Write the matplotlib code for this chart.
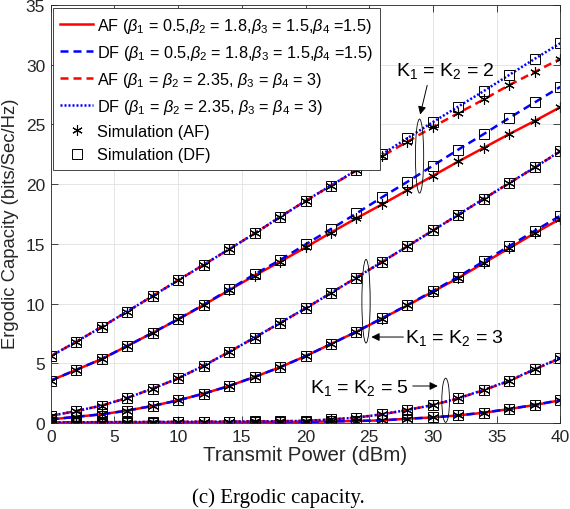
import numpy as np
import matplotlib
matplotlib.use('Agg')
import matplotlib.pyplot as plt
from matplotlib.patches import Ellipse

# ── data ──────────────────────────────────────────────────────────────────────
power_dbm = [0, 2, 4, 6, 8, 10, 12, 14, 16, 18, 20,
             22, 24, 26, 28, 30, 32, 34, 36, 38, 40]

# K1 = K2 = 2
k2_af_b1 = [3.55, 4.45, 5.36, 6.45, 7.55, 8.68, 9.88, 11.12, 12.35, 13.5, 14.7,
            15.95, 17.15, 18.3, 19.5, 20.7, 21.9, 23.05, 24.2, 25.3, 26.45]
k2_df_b1 = [3.55, 4.45, 5.36, 6.45, 7.56, 8.7, 9.9, 11.18, 12.45, 13.65, 14.95,
            16.25, 17.55, 18.9, 20.2, 21.55, 22.9, 24.2, 25.55, 26.85, 28.15]
k2_af_b2 = [5.6, 6.8, 8.05, 9.33, 10.64, 11.95, 13.25, 14.55, 15.87, 17.25, 18.6,
            19.88, 21.15, 22.35, 23.55, 24.8, 25.95, 27.1, 28.3, 29.4, 30.5]
k2_df_b2 = [5.6, 6.8, 8.05, 9.33, 10.64, 11.95, 13.25, 14.55, 15.87, 17.25, 18.6,
            19.88, 21.18, 22.5, 23.85, 25.2, 26.5, 27.8, 29.15, 30.5, 31.8]

# K1 = K2 = 3
k3_af_b1 = [0.3, 0.52, 0.73, 1.04, 1.43, 1.9, 2.46, 3.1, 3.86, 4.67, 5.6,
            6.62, 7.65, 8.75, 9.85, 11.0, 12.15, 13.4, 14.65, 15.9, 17.1]
k3_df_b1 = [0.3, 0.52, 0.73, 1.04, 1.43, 1.9, 2.46, 3.1, 3.86, 4.67, 5.6,
            6.62, 7.65, 8.77, 9.88, 11.05, 12.25, 13.55, 14.82, 16.1, 17.35]
k3_af_b2 = [0.6, 1.0, 1.46, 2.1, 2.88, 3.74, 4.8, 5.95, 7.15, 8.38, 9.6,
            10.89, 12.18, 13.49, 14.8, 16.12, 17.45, 18.78, 20.1, 21.4, 22.75]
k3_df_b2 = [0.6, 1.0, 1.46, 2.1, 2.88, 3.74, 4.8, 5.95, 7.15, 8.38, 9.6,
            10.89, 12.18, 13.49, 14.8, 16.12, 17.45, 18.78, 20.1, 21.4, 22.78]

# K1 = K2 = 5
k5_af_b1 = [0.02, 0.03, 0.03, 0.04, 0.04, 0.05, 0.06, 0.07, 0.08, 0.09, 0.1,
            0.13, 0.17, 0.22, 0.36, 0.47, 0.64, 0.86, 1.17, 1.51, 1.9]
k5_df_b1 = [0.02, 0.03, 0.03, 0.04, 0.04, 0.05, 0.06, 0.07, 0.08, 0.09, 0.1,
            0.13, 0.17, 0.22, 0.36, 0.47, 0.64, 0.87, 1.18, 1.52, 1.92]
k5_af_b2 = [0.05, 0.06, 0.07, 0.08, 0.09, 0.1, 0.11, 0.12, 0.13, 0.15, 0.18,
            0.3, 0.45, 0.73, 1.09, 1.51, 2.07, 2.76, 3.52, 4.5, 5.42]
k5_df_b2 = [0.05, 0.06, 0.07, 0.08, 0.09, 0.1, 0.11, 0.12, 0.13, 0.15, 0.18,
            0.3, 0.45, 0.73, 1.09, 1.51, 2.07, 2.78, 3.55, 4.52, 5.45]

af_b1_sets = [k2_af_b1, k3_af_b1, k5_af_b1]
df_b1_sets = [k2_df_b1, k3_df_b1, k5_df_b1]
af_b2_sets = [k2_af_b2, k3_af_b2, k5_af_b2]
df_b2_sets = [k2_df_b2, k3_df_b2, k5_df_b2]

labels = [r'AF ($\beta_1$ = 0.5,$\beta_2$ = 1.8,$\beta_3$ = 1.5,$\beta_4$ =1.5)',
          r'DF ($\beta_1$ = 0.5,$\beta_2$ = 1.8,$\beta_3$ = 1.5,$\beta_4$ =1.5)',
          r'AF ($\beta_1$ = $\beta_2$ = 2.35, $\beta_3$ = $\beta_4$ = 3)',
          r'DF ($\beta_1$ = $\beta_2$ = 2.35, $\beta_3$ = $\beta_4$ = 3)',
          'Simulation (AF)', 'Simulation (DF)']

# ── style ─────────────────────────────────────────────────────────────────────
plt.rcParams['font.family'] = ['Liberation Sans', 'DejaVu Sans']
plt.rcParams['mathtext.fontset'] = 'custom'
plt.rcParams['mathtext.rm'] = 'Liberation Sans'
plt.rcParams['mathtext.it'] = 'Liberation Sans:italic'
DARK = (0.15, 0.15, 0.15)
STAR = (6, 2, 0)

fig = plt.figure(figsize=(5.7, 5.1), dpi=100)
ax = fig.add_axes([0.089, 0.1686, 0.894, 0.8196])

x = np.array(power_dbm)
lw = 1.8
h = [None] * 6
for i in range(3):
    h[0], = ax.plot(x, af_b1_sets[i], color='red', lw=lw, ls='-')
    h[1], = ax.plot(x, df_b1_sets[i], color='blue', lw=lw, ls=(0, (3.2, 2.0)))
    h[2], = ax.plot(x, af_b2_sets[i], color='red', lw=lw, ls=(0, (3.2, 2.0)))
    h[3], = ax.plot(x, df_b2_sets[i], color='blue', lw=lw, ls=(0, (0.8, 0.8)))
for i in range(3):
    for ys in (af_b1_sets[i], af_b2_sets[i]):
        h[4], = ax.plot(x, ys, ls='none', marker=STAR, ms=7.5, mec='black',
                        mfc='none', mew=0.8)
    for ys in (df_b1_sets[i], df_b2_sets[i]):
        h[5], = ax.plot(x, ys, ls='none', marker='s', ms=6.5, mec='black',
                        mfc='none', mew=0.7)

ax.set_xlim(0, 40)
ax.set_ylim(0, 35)
ax.set_xticks(range(0, 41, 5))
ax.set_yticks(range(0, 36, 5))
ax.grid(True, color=(0.88, 0.88, 0.88), lw=0.6)
ax.set_axisbelow(True)
ax.tick_params(direction='in', top=True, right=True, length=5, width=0.6,
               labelsize=12.5, colors=DARK, pad=4)
for s in ax.spines.values():
    s.set_color(DARK)
    s.set_linewidth(0.6)

ax.set_xlabel('Transmit Power (dBm)', fontsize=14.8, color=DARK, labelpad=1)
ax.set_ylabel('Ergodic Capacity (bits/Sec/Hz)', fontsize=13.3, color=DARK)
ax.yaxis.set_label_coords(-0.062, 0.478)

leg = ax.legend(h, labels, loc='upper left', bbox_to_anchor=(0.004, 0.992),
                fontsize=11.7, frameon=True, fancybox=False, framealpha=1,
                edgecolor=DARK, handlelength=2.05, handletextpad=0.2,
                labelspacing=0.5, borderpad=0.45, borderaxespad=0)
leg.get_frame().set_linewidth(0.6)

# ── ellipses and labels ───────────────────────────────────────────────────────
for (cx, cy, w, hh) in [(28.95, 22.35, 0.65, 6.2),
                        (24.75, 10.2, 0.65, 7.0),
                        (31.0, 1.9, 0.6, 3.7)]:
    ax.add_patch(Ellipse((cx, cy), w, hh, fill=False, ec='black', lw=0.6,
                         zorder=6))

arrow = dict(arrowstyle='-|>', color='black', lw=0.7, mutation_scale=12)
ax.text(31.0, 29.6, r'K$_1$ = K$_2$ = 2', fontsize=14, ha='center', va='center')
ax.annotate('', xy=(28.95, 25.6), xytext=(29.6, 28.5), arrowprops=arrow)
ax.text(31.7, 7.2, r'K$_1$ = K$_2$ = 3', fontsize=14, ha='center', va='center')
ax.annotate('', xy=(24.95, 7.2), xytext=(27.9, 7.2), arrowprops=arrow)
ax.text(24.2, 3.0, r'K$_1$ = K$_2$ = 5', fontsize=14, ha='center', va='center')
ax.annotate('', xy=(30.6, 3.1), xytext=(28.2, 3.1), arrowprops=arrow)

fig.text(0.488, 1 - 498 / 510, '(c) Ergodic capacity.', ha='center',
         va='center', fontsize=15, family='Liberation Serif')

fig.savefig('out.png', dpi=100)
